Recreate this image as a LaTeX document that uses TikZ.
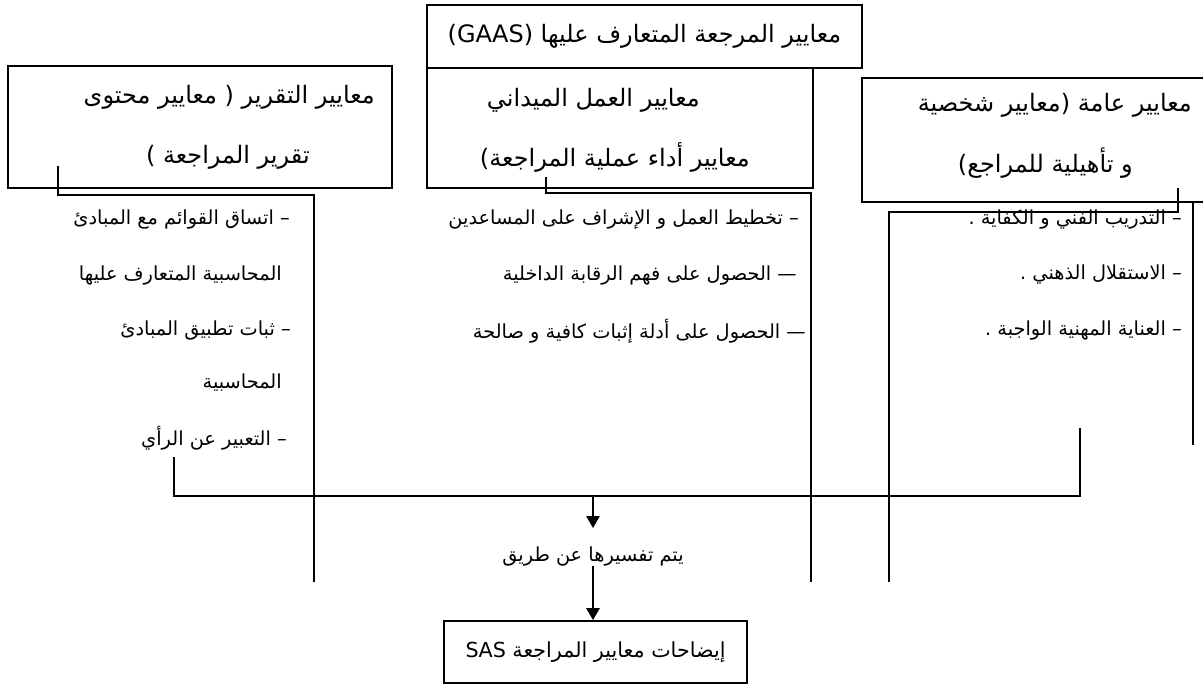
\documentclass[tikz,border=0pt]{standalone}
\usepackage{fontspec}
\usetikzlibrary{arrows.meta}
\TeXXeTstate=1
\newfontfamily\arabicfont[Script=Arabic]{DejaVu Sans}
\begin{document}
\begin{tikzpicture}[x=0.75pt,y=-0.75pt]
\tikzstyle{every node}+=[inner sep=0pt]
\tikzstyle{frame}=[draw,line width=1.4pt]
\tikzstyle{head}=[font=\arabicfont\fontsize{18}{21}\selectfont]
\tikzstyle{item}=[font=\arabicfont\fontsize{14.5}{17}\selectfont,anchor=east]
\tikzstyle{rule}=[line width=1.4pt]
\tikzstyle{arr}=[line width=1.4pt,-{Triangle[length=9pt,width=10pt]}]
\useasboundingbox (0,0) rectangle (1203,685);
\clip (0,0) rectangle (1203,685);

\node[frame,head,minimum width=326.25pt,minimum height=47.25pt] (gaas) at (644.5,36.5) {\beginR معايير المرجعة المتعارف عليها (GAAS)\endR};
\node[frame,minimum width=288pt,minimum height=91.5pt] (report) at (200,127) {};
\node[frame,minimum width=289.5pt,minimum height=90pt] (field) at (620,128) {};
\node[frame,minimum width=283.5pt,minimum height=93pt] (general) at (1051,140) {};
\node[frame,head,font=\arabicfont\fontsize{15.5}{18}\selectfont,minimum width=227.25pt,minimum height=46.5pt] (sas) at (595.5,652) {\beginR إيضاحات معايير المراجعة SAS\endR};

\node[head,anchor=east] (report-a) at (375,97) {\beginR معايير التقرير ( معايير محتوى\endR};
\node[head,anchor=east] (report-b) at (310,157) {\beginR تقرير المراجعة )\endR};
\node[head,anchor=east] (field-a) at (700,100) {\beginR معايير العمل الميداني\endR};
\node[head,anchor=east] (field-b) at (750,157) {\beginR معايير أداء عملية المراجعة)\endR};
\node[head,anchor=east] (general-a) at (1192,105) {\beginR معايير عامة (معايير شخصية\endR};
\node[head,anchor=east] (general-b) at (1133,163) {\beginR و تأهيلية للمراجع)\endR};

\node[item] (rep1) at (290,220) {\beginR – اتساق القوائم مع المبادئ\endR};
\node[item] (rep2) at (282,276) {\beginR المحاسبية المتعارف عليها\endR};
\node[item] (rep3) at (291,331) {\beginR – ثبات تطبيق المبادئ\endR};
\node[item] (rep4) at (282,383) {\beginR المحاسبية\endR};
\node[item] (rep5) at (287,438) {\beginR – التعبير عن الرأي\endR};

\node[item] (fld1) at (799,220) {\beginR – تخطيط العمل و الإشراف على المساعدين\endR};
\node[item] (fld2) at (797,276) {\beginR — الحصول على فهم الرقابة الداخلية\endR};
\node[item] (fld3) at (806,331) {\beginR — الحصول على أدلة إثبات كافية و صالحة\endR};

\node[item] (gen1) at (1182,220) {\beginR – التدريب الفني و الكفاية .\endR};
\node[item] (gen2) at (1182,275) {\beginR – الاستقلال الذهني .\endR};
\node[item] (gen3) at (1182,331) {\beginR – العناية المهنية الواجبة .\endR};

\coordinate (rep-top) at (58,166);
\coordinate (rep-turn) at (314,195);
\coordinate (rep-end) at (314,582);
\draw[rule] (rep-top) |- (rep-turn) -- (rep-end);

\coordinate (fld-top) at (546,177);
\coordinate (fld-turn) at (811,193);
\coordinate (fld-end) at (811,582);
\draw[rule] (fld-top) |- (fld-turn) -- (fld-end);

\coordinate (gen-top) at (1178,188);
\coordinate (gen-turn) at (889,212);
\coordinate (gen-end) at (889,582);
\draw[rule] (gen-top) |- (gen-turn) -- (gen-end);

\coordinate (side-top) at (1193,202);
\coordinate (side-end) at (1193,445);
\draw[rule] (side-top) -- (side-end);

\coordinate (merge-l) at (174,457);
\coordinate (merge-r) at (1080,496);
\coordinate (merge-end) at (1080,428);
\draw[rule] (merge-l) |- (merge-r) -- (merge-end);

\coordinate (join) at (593,496);
\node[item,anchor=north,text height=25pt,text depth=3pt] (via) at (join |- 0,528) {\beginR يتم تفسيرها عن طريق\endR};
\draw[arr] (join) -- (via.north);
\draw[arr] (via.south) -- (via.south |- sas.north);
\end{tikzpicture}
\end{document}
